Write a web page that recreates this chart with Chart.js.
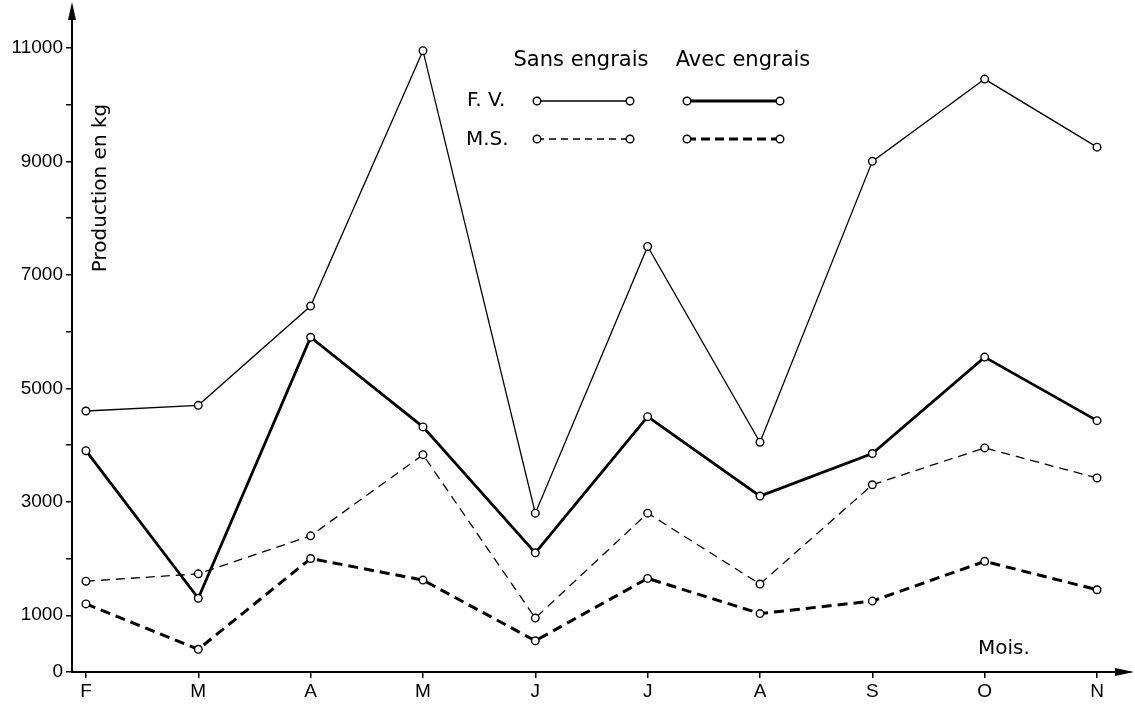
<!DOCTYPE html>
<html>
<head>
<meta charset="utf-8">
<script src="https://cdn.jsdelivr.net/npm/chart.js@4/dist/chart.umd.min.js"></script>
<style>
  body { margin: 0; background: #fff; }
  #wrap { width: 1135px; height: 708px; }
</style>
</head>
<body>
<div id="wrap"><canvas id="chartCanvas"></canvas></div>
<script>
// Données (production mensuelle en kg)
var mois = ["F", "M", "A", "M", "J", "J", "A", "S", "O", "N"];
var fvSans = [4600, 4700, 6450, 10950, 2800, 7500, 4050, 9000, 10450, 9250];
var fvAvec = [3900, 1300, 5900, 4320, 2100, 4500, 3100, 3850, 5550, 4430];
var msSans = [1600, 1730, 2400, 3830, 950, 2800, 1550, 3300, 3950, 3420];
var msAvec = [1200, 400, 2000, 1620, 550, 1650, 1030, 1250, 1950, 1450];
var yTicks = [0, 1000, 2000, 3000, 4000, 5000, 6000, 7000, 8000, 9000, 10000, 11000];
var yLabels = ["0", "1000", "", "3000", "", "5000", "", "7000", "", "9000", "", "11000"];

var ctx = document.getElementById("chartCanvas").getContext("2d");

function pts(arr) {
  return arr.map(function (v, i) { return { x: i, y: v }; });
}

function serie(label, data, width, dash) {
  return {
    label: label,
    data: pts(data),
    borderColor: "#000",
    borderWidth: width,
    borderDash: dash,
    pointRadius: 3.8,
    pointBackgroundColor: "#fff",
    pointBorderColor: "#000",
    pointBorderWidth: 1.4,
    tension: 0,
    fill: false
  };
}

// légende, flèches et titres des axes dessinés à la main
var decor = {
  id: "decor",
  afterDraw: function (chart) {
    var c = chart.ctx;
    var a = chart.chartArea;
    c.save();
    c.fillStyle = "#000";
    c.strokeStyle = "#000";
    // flèches
    c.beginPath();
    c.moveTo(a.left, 2); c.lineTo(a.left - 4, 20); c.lineTo(a.left + 4, 20); c.closePath(); c.fill();
    c.beginPath();
    c.moveTo(1134, a.bottom); c.lineTo(1115, a.bottom - 4); c.lineTo(1115, a.bottom + 4); c.closePath(); c.fill();

    // titre axe Y
    c.save();
    c.translate(101, 188);
    c.rotate(-Math.PI / 2);
    c.font = "20px 'DejaVu Sans'";
    c.textAlign = "center";
    c.textBaseline = "middle";
    c.fillText("Production en kg", 0, 0);
    c.restore();

    c.font = "20px 'DejaVu Sans'";
    c.textAlign = "left";
    c.textBaseline = "middle";
    c.fillText("Mois.", 978, 649);

    // légende
    c.font = "500 21px 'DejaVu Sans'";
    c.textAlign = "center";
    c.fillText("Sans engrais", 581, 61);
    c.fillText("Avec engrais", 743, 61);
    c.font = "20px 'DejaVu Sans'";
    c.textAlign = "left";
    c.fillText("F. V.", 467, 101);
    c.fillText("M.S.", 466, 140);

    function ligne(x1, x2, y, w, dash) {
      c.beginPath();
      c.setLineDash(dash);
      c.lineWidth = w;
      c.moveTo(x1, y); c.lineTo(x2, y); c.stroke();
      c.setLineDash([]);
      [x1, x2].forEach(function (x) {
        c.beginPath();
        c.arc(x, y, 3.8, 0, Math.PI * 2);
        c.fillStyle = "#fff"; c.fill();
        c.lineWidth = 1.4; c.stroke();
      });
      c.fillStyle = "#000";
    }
    ligne(537, 630, 101, 1.3, []);
    ligne(687, 780, 101, 2.8, []);
    ligne(537, 630, 139, 1.3, [7, 5]);
    ligne(687, 780, 139, 3, [9, 5]);
    c.restore();
  }
};

var chartConfig = {
  type: "line",
  data: {
    datasets: [
      serie("F.V. sans engrais", fvSans, 1.3, []),
      serie("F.V. avec engrais", fvAvec, 2.8, []),
      serie("M.S. sans engrais", msSans, 1.3, [9, 6]),
      serie("M.S. avec engrais", msAvec, 3, [10, 6])
    ]
  },
  options: {
    responsive: true,
    maintainAspectRatio: false,
    animation: false,
    layout: { padding: { top: 8, right: 3, left: 0, bottom: 0 } },
    plugins: { legend: { display: false }, tooltip: { enabled: false } },
    scales: {
      x: {
        type: "linear",
        min: -0.124,
        max: 9.29,
        afterBuildTicks: function (s) { s.ticks = mois.map(function (m, i) { return { value: i }; }); },
        afterFit: function (s) { s.height = 36; },
        ticks: {
          callback: function (v) { return mois[v]; },
          color: "#000",
          font: { family: "'Liberation Sans'", size: 19 },
          padding: 2,
          maxRotation: 0
        },
        grid: { drawOnChartArea: false, drawTicks: true, tickLength: 6, color: "#000", lineWidth: 1.5 },
        border: { display: true, color: "#000", width: 2 }
      },
      y: {
        min: 0,
        max: 11590,
        afterBuildTicks: function (s) { s.ticks = yTicks.map(function (v) { return { value: v }; }); },
        afterFit: function (s) { s.width = 72; },
        ticks: {
          callback: function (v, i) { return yLabels[i]; },
          color: "#000",
          font: { family: "'Liberation Sans'", size: 19 },
          padding: 3
        },
        grid: { drawOnChartArea: false, drawTicks: true, tickLength: 6, color: "#000", lineWidth: 1.5 },
        border: { display: true, color: "#000", width: 2 }
      }
    }
  },
  plugins: [decor]
};

var myChart = new Chart(ctx, chartConfig);
</script>
</body>
</html>
